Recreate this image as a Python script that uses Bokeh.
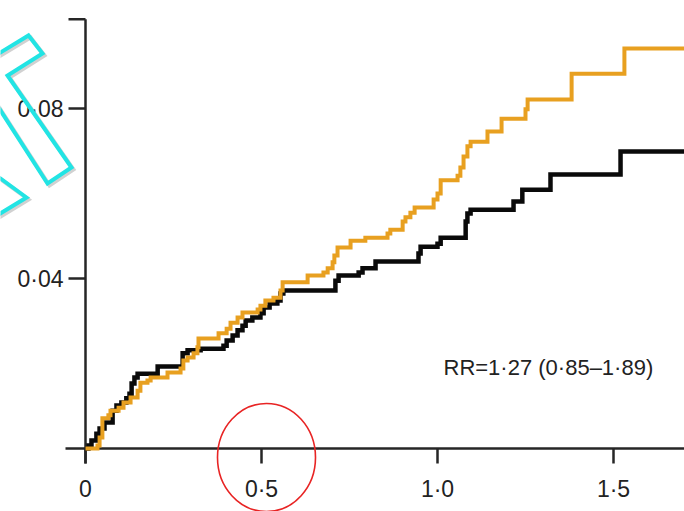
import numpy as np
from bokeh.plotting import figure
from bokeh.models import Range1d
from bokeh.core.properties import value
from bokeh.embed import file_html
from bokeh.resources import INLINE

# ---------------- data ----------------
# time (years) at which each step occurs, cumulative incidence after the step
black_t = [0.0085, 0.017, 0.031, 0.040, 0.054, 0.077, 0.088, 0.102, 0.116, 0.125,
           0.131, 0.139, 0.148, 0.205, 0.276, 0.290, 0.327, 0.392, 0.401, 0.418,
           0.432, 0.446, 0.455, 0.474, 0.497, 0.506, 0.523, 0.545, 0.554, 0.562,
           0.710, 0.719, 0.776, 0.787, 0.824, 0.946, 0.952, 1.000, 1.009, 1.080,
           1.085, 1.094, 1.216, 1.241, 1.321, 1.520]
black_y = [0.0007, 0.0019, 0.0035, 0.0047, 0.0061, 0.0089, 0.0101, 0.0108, 0.0118, 0.0129,
           0.0153, 0.0167, 0.0176, 0.0193, 0.0224, 0.0231, 0.0235, 0.0242, 0.0254, 0.0266,
           0.0278, 0.0289, 0.0301, 0.0308, 0.0318, 0.0332, 0.0341, 0.0348, 0.0365, 0.0372,
           0.0395, 0.0407, 0.0414, 0.0424, 0.0440, 0.0459, 0.0475, 0.0482, 0.0496, 0.0534,
           0.0553, 0.0562, 0.0581, 0.0609, 0.0645, 0.0699]

orange_t = [0.034, 0.040, 0.048, 0.065, 0.071, 0.094, 0.108, 0.128, 0.148, 0.156,
            0.176, 0.185, 0.233, 0.270, 0.278, 0.290, 0.307, 0.318, 0.321, 0.378,
            0.401, 0.412, 0.432, 0.446, 0.489, 0.497, 0.511, 0.534, 0.554, 0.560,
            0.631, 0.676, 0.688, 0.702, 0.707, 0.716, 0.753, 0.795, 0.858, 0.866,
            0.901, 0.909, 0.923, 0.935, 0.989, 1.000, 1.009, 1.057, 1.065, 1.074,
            1.085, 1.094, 1.142, 1.182, 1.250, 1.256, 1.381, 1.531]
orange_y = [0.0007, 0.0026, 0.0071, 0.0078, 0.0089, 0.0096, 0.0108, 0.0120, 0.0136, 0.0155,
            0.0160, 0.0167, 0.0179, 0.0188, 0.0207, 0.0214, 0.0224, 0.0238, 0.0259, 0.0271,
            0.0282, 0.0296, 0.0308, 0.0320, 0.0327, 0.0336, 0.0348, 0.0355, 0.0372, 0.0391,
            0.0407, 0.0414, 0.0424, 0.0438, 0.0454, 0.0473, 0.0489, 0.0496, 0.0506, 0.0515,
            0.0534, 0.0544, 0.0555, 0.0567, 0.0586, 0.0600, 0.0631, 0.0642, 0.0661, 0.0687,
            0.0711, 0.0722, 0.0746, 0.0776, 0.0798, 0.0821, 0.0882, 0.0941]

x_ticks = [0, 0.5, 1.0, 1.5]
y_ticks = [0.04, 0.08]
y_axis_top = 0.101
rr_text = "RR=1·27 (0·85–1·89)"

# ---------------- canvas / scales ----------------
W, H = 684, 511
X0_PX, Y0_PX = 85.0, 448.0        # where (0, 0) sits on the canvas
PX_PER_X, PX_PER_Y = 352.0, 4250.0

x_start = -X0_PX / PX_PER_X
x_end = (W - X0_PX) / PX_PER_X
y_start = -(H - Y0_PX) / PX_PER_Y
y_end = Y0_PX / PX_PER_Y

p = figure(width=W, height=H, output_backend="svg", toolbar_location=None,
           x_range=Range1d(x_start, x_end), y_range=Range1d(y_start, y_end),
           x_axis_location=None, y_axis_location=None)
p.min_border = 0
p.outline_line_color = None
p.grid.visible = False
p.background_fill_color = "white"
p.border_fill_color = "white"

AX = "#262626"
FONT = "Liberation Sans"
TXT = "#222222"

def sx(px):   # screen-pixel length -> x data length
    return px / PX_PER_X

def sy(px):   # screen-pixel length -> y data length
    return px / PX_PER_Y

# ---------------- axes (drawn with the plot's scales) ----------------
# axis lines
p.segment(x0=[0, -sx(20)], y0=[y_axis_top, 0], x1=[0, x_end], y1=[-sy(15), 0],
          line_color=AX, line_width=2.5)
# x ticks
p.segment(x0=x_ticks, y0=[0] * len(x_ticks), x1=x_ticks, y1=[-sy(15)] * len(x_ticks),
          line_color=AX, line_width=2.5)
# y ticks (incl. unlabeled cap at the top)
yt_all = y_ticks + [y_axis_top]
p.segment(x0=[0] * len(yt_all), y0=yt_all, x1=[-sx(17)] * len(yt_all), y1=yt_all,
          line_color=AX, line_width=2.5)

x_labels = ["0" if t == 0 else f"{t:.1f}".replace(".", "·") for t in x_ticks]
y_labels = [f"{t:.2f}".replace(".", "·") for t in y_ticks]

p.text(x=x_ticks, y=[-sy(40)] * len(x_ticks), text=x_labels,
       text_font=value(FONT), text_font_size="23px", text_color=TXT,
       text_align="center", text_baseline="middle")
p.text(x=[-sx(22)] * len(y_ticks), y=y_ticks, text=y_labels,
       text_font=value(FONT), text_font_size="23px", text_color=TXT,
       text_align="right", text_baseline="middle")

# ---------------- curves ----------------
bx = [0] + black_t + [x_end]
by = [0] + black_y + [black_y[-1]]
ox = [0] + orange_t + [x_end]
oy = [0] + orange_y + [orange_y[-1]]

p.step(bx, by, mode="after", line_color="#0a0a0a", line_width=4.5, line_join="miter")
p.step(ox, oy, mode="after", line_color="#E8A020", line_width=4, line_join="miter")

p.text(x=[sx(443 - X0_PX)], y=[sy(Y0_PX - 367)], text=[rr_text],
       text_font=value(FONT), text_font_size="22px", text_color=TXT,
       text_align="left", text_baseline="middle")

# ---------------- decorations (page-pixel placement) ----------------
def dx(px):
    return (np.asarray(px, dtype=float) - X0_PX) / PX_PER_X

def dy(py):
    return (Y0_PX - np.asarray(py, dtype=float)) / PX_PER_Y

# red hand-drawn circle around the 0.5 tick
p.ellipse(x=[dx(266)], y=[dy(457)], width=[sx(98)], height=[sy(108)],
          fill_color=None, line_color="#E82424", line_width=1.6)

# cyan outlined watermark pieces on the left
cy1_x = [-10, 28, 42, 7, 71, 47, -10]
cy1_y = [58, 35, 53, 75, 167, 183, 94.5]
cy2_x = [-10, 26, -10]
cy2_y = [170.7, 197, 219]
for px_, py_ in ((cy1_x, cy1_y), (cy2_x, cy2_y)):
    p.line(list(dx(np.array(px_) + 2)), list(dy(np.array(py_) + 2)),
           line_color="#9a9a9a", line_alpha=0.45, line_width=4, line_join="miter")
    p.line(list(dx(px_)), list(dy(py_)),
           line_color="#22E4E4", line_width=4, line_join="miter")

open("out.html", "w").write(file_html(p, INLINE))
